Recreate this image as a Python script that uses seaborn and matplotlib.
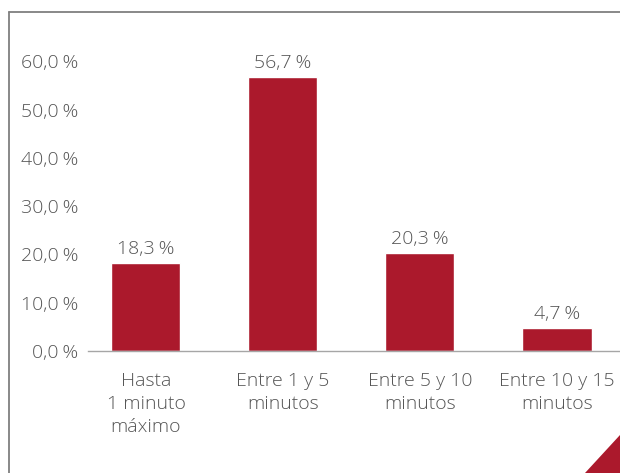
import matplotlib
matplotlib.use("Agg")
import matplotlib.pyplot as plt
import seaborn as sns
import pandas as pd
from matplotlib.lines import Line2D
from matplotlib.patches import Polygon

categories = ["Hasta\n1 minuto\nmáximo", "Entre 1 y 5\nminutos", "Entre 5 y 10\nminutos", "Entre 10 y 15\nminutos"]
values = [18.3, 56.7, 20.3, 4.7]
yticks = [0, 10, 20, 30, 40, 50, 60]

sns.set_theme(style="white")
plt.rcParams['font.family'] = ['Open Sans', 'DejaVu Sans']

BAR = "#AB192C"
TXT = "#555555"
FS = 14

fig = plt.figure(figsize=(6.2, 4.73), dpi=100)
W, H = 620, 473
x0, x1 = 88, 620
y_bot = 351
ppu = 4.83
y_top = y_bot - 62 * ppu
ax = fig.add_axes([x0 / W, 1 - y_bot / H, (x1 - x0) / W, (y_bot - y_top) / H])

df = pd.DataFrame({"cat": categories, "val": values})
sns.barplot(data=df, x="cat", y="val", color=BAR, saturation=1, width=0.504, ax=ax)

ax.set_xlim(-0.423, 3.46)
ax.set_ylim(0, 62)
ax.set_yticks(yticks)
ax.set_yticklabels([f"{v:.1f}".replace(".", ",") + "\u2009%" for v in yticks],
                   fontweight="light")
ax.set_xticklabels(categories, fontweight="light", linespacing=1.35)
ax.set_xlabel("")
ax.set_ylabel("")
ax.tick_params(axis="both", length=0, colors=TXT, labelsize=FS)
ax.tick_params(axis="y", pad=7)
ax.tick_params(axis="x", pad=15)
for s in ["top", "right", "left"]:
    ax.spines[s].set_visible(False)
ax.spines["bottom"].set_color("#A6A6A6")
ax.spines["bottom"].set_linewidth(1.0)
ax.patch.set_alpha(0)

for i, v in enumerate(values):
    ax.text(i, v + 1.0, f"{v:.1f}".replace(".", ",") + "\u2009%", ha="center", va="bottom",
            color=TXT, fontsize=FS, fontweight="light")

# frame lines
fig.add_artist(Line2D([9 / W, 9 / W], [1 - 12 / H, 0], transform=fig.transFigure, color="#7F7F7F", lw=1.3))
fig.add_artist(Line2D([9 / W, 1], [1 - 12 / H, 1 - 12 / H], transform=fig.transFigure, color="#7F7F7F", lw=1.3))
fig.add_artist(Polygon([[585 / W, 0], [1, 0], [1, 1 - 435 / H]], closed=True, transform=fig.transFigure,
                       facecolor=BAR, edgecolor="none"))

fig.savefig("out.png", dpi=100, facecolor="white")
